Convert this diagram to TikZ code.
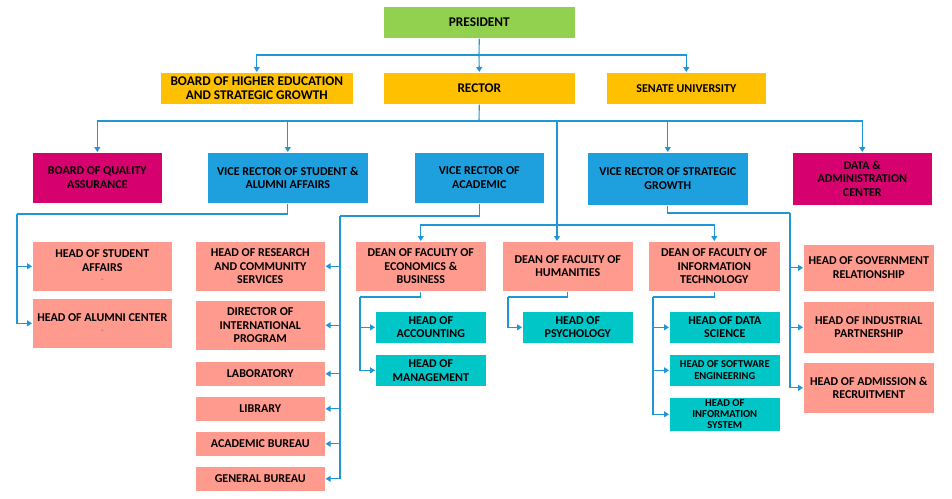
\documentclass[tikz,border=0pt]{standalone}
\usepackage{fontspec}
\setmainfont{Carlito}
\usetikzlibrary{arrows.meta}
\definecolor{cgreen}{HTML}{92D050}
\definecolor{corange}{HTML}{FFC000}
\definecolor{cmag}{HTML}{D6006F}
\definecolor{cblue}{HTML}{1FA0DE}
\definecolor{csalmon}{HTML}{FF9A8F}
\definecolor{cteal}{HTML}{00C6C8}
\definecolor{cline}{HTML}{2196D6}
\definecolor{ctext}{HTML}{000000}
\tikzset{
  box/.style={anchor=north west, inner sep=1pt, align=center, text=ctext,
    font=\bfseries\fontsize{12}{13.6}\selectfont, draw=white, line width=0.6pt},
  big/.style={font=\bfseries\fontsize{13.3}{14.6}\selectfont},
  small/.style={font=\bfseries\fontsize{10.5}{11.5}\selectfont},
  tiny/.style={font=\bfseries\fontsize{10.6}{11}\selectfont},
  lnk/.style={draw=cline, line width=1.1pt},
  conn/.style={lnk, -{Triangle[length=5pt,width=6pt]}},
}
\newcommand{\bx}[7][]{\node[box, #1, fill=#2, minimum width=#5pt, minimum height=#6pt] (#3) at (#4) {#7};}
\newcommand{\dashnote}{\\[-2pt]{\color{gray}\mdseries\fontsize{10}{10}\selectfont -}}
\begin{document}
\begin{tikzpicture}[x=1pt,y=-1pt]
\useasboundingbox (0,0) rectangle (952,498);
% row 1-2
\bx[big]{cgreen}{pres}{383,6}{192}{32}{PRESIDENT}
\bx[big]{corange}{board}{160,72}{193}{32}{BOARD OF HIGHER EDUCATION\\AND STRATEGIC GROWTH}
\bx[big]{corange}{rector}{383,72}{192}{32}{RECTOR}
\bx{corange}{senate}{606,72}{160}{32}{SENATE UNIVERSITY}
% row 3
\bx{cmag}{bqa}{32,152}{130}{51}{BOARD OF QUALITY\\ASSURANCE}
\bx{cblue}{vrs}{207,152}{161}{51}{VICE RECTOR OF STUDENT \&\\ALUMNI AFFAIRS}
\bx{cblue}{vra}{414,152}{130}{51}{VICE RECTOR OF\\ACADEMIC}
\bx{cblue}{vrsg}{587,152}{161}{53}{VICE RECTOR OF STRATEGIC\\GROWTH}
\bx{cmag}{dac}{792,152}{140}{53}{DATA \&\\ADMINISTRATION\\CENTER}
% student affairs
\bx{csalmon}{hsa}{32,241}{140}{50}{HEAD OF STUDENT\\AFFAIRS\dashnote}
\bx{csalmon}{hac}{32,298}{140}{50}{HEAD OF ALUMNI CENTER\dashnote}
% academic units
\bx{csalmon}{hrc}{195,241}{130}{50}{HEAD OF RESEARCH\\AND COMMUNITY\\SERVICES}
\bx{csalmon}{dip}{195,300}{130}{50}{DIRECTOR OF\\INTERNATIONAL\\PROGRAM}
\bx{csalmon}{lab}{195,361}{130}{25}{LABORATORY}
\bx{csalmon}{lib}{195,396}{130}{25}{LIBRARY}
\bx{csalmon}{abu}{195,431}{130}{25}{ACADEMIC BUREAU}
\bx{csalmon}{gbu}{195,466}{130}{25}{GENERAL BUREAU}
% deans
\bx{csalmon}{deane}{355,241}{131}{50}{DEAN OF FACULTY OF\\ECONOMICS \&\\BUSINESS}
\bx{csalmon}{deanh}{502,241}{131}{50}{DEAN OF FACULTY OF\\HUMANITIES}
\bx{csalmon}{deanit}{648,241}{132}{50}{DEAN OF FACULTY OF\\INFORMATION\\TECHNOLOGY}
% heads
\bx{cteal}{hacc}{375,311}{111}{32}{HEAD OF\\ACCOUNTING}
\bx{cteal}{hman}{375,354}{111}{32}{HEAD OF\\MANAGEMENT}
\bx{cteal}{hpsy}{522,311}{111}{32}{HEAD OF\\PSYCHOLOGY}
\bx{cteal}{hds}{669,311}{111}{32}{HEAD OF DATA\\SCIENCE}
\bx[small]{cteal}{hse}{669,354}{111}{32}{HEAD OF SOFTWARE\\ENGINEERING}
\bx[tiny]{cteal}{his}{669,397}{111}{34}{HEAD OF\\INFORMATION\\SYSTEM}
% strategic
\bx{csalmon}{hgov}{803,244}{131}{47}{HEAD OF GOVERNMENT\\RELATIONSHIP}
\bx{csalmon}{hind}{803,301}{131}{52}{HEAD OF INDUSTRIAL\\PARTNERSHIP}
\bx{csalmon}{hadm}{803,362}{131}{51}{HEAD OF ADMISSION \&\\RECRUITMENT}
% president connectors
\coordinate (pj) at (479,55);
\draw[lnk] (pres.south) -- (pj);
\draw[conn] (pj) -| (board.north);
\draw[conn] (pj) -| (senate.north);
\draw[conn] (pj) -- (rector.north);
% rector connectors
\coordinate (rj) at (479,121);
\draw[lnk] (rector.south) -- (rj);
\draw[conn] (rj) -| (bqa.north);
\draw[conn] (rj) -| (vrs.north);
\draw[conn] (rj) -| (vrsg.north);
\draw[conn] (rj) -| (dac.north);
\coordinate (hin) at (557,241);
\draw[conn] (rj) -| (hin);
\coordinate (dj) at (557,225);
\draw[conn] (dj) -| (deane.north);
\draw[conn] (dj) -| (deanit.north);
% vice rector student
\coordinate (sl) at (17,214);
\draw[lnk] (vrs.south) |- (sl);
\draw[conn] (sl) |- (hsa.west);
\draw[conn] (sl) |- (hac.west);
% vice rector academic
\coordinate (al) at (340,216);
\draw[lnk] (vra.south) |- (al);
\draw[conn] (al) |- (hrc.east);
\draw[conn] (al) |- (dip.east);
\draw[conn] (al) |- (lab.east);
\draw[conn] (al) |- (lib.east);
\draw[conn] (al) |- (abu.east);
\draw[conn] (al) |- (gbu.east);
% vice rector strategic
\coordinate (gl) at (790,213);
\draw[lnk] (vrsg.south) |- (gl);
\draw[conn] (gl) |- (hgov.west);
\draw[conn] (gl) |- (hind.west);
\draw[conn] (gl) |- (hadm.west);
% deans
\coordinate (el) at (360,297);
\draw[lnk] (deane.south) |- (el);
\draw[conn] (el) |- (hacc.west);
\draw[conn] (el) |- (hman.west);
\coordinate (hl) at (508,297);
\draw[lnk] (deanh.south) |- (hl);
\draw[conn] (hl) |- (hpsy.west);
\coordinate (il) at (653,297);
\draw[lnk] (deanit.south) |- (il);
\draw[conn] (il) |- (hds.west);
\draw[conn] (il) |- (hse.west);
\draw[conn] (il) |- (his.west);
\end{tikzpicture}
\end{document}
